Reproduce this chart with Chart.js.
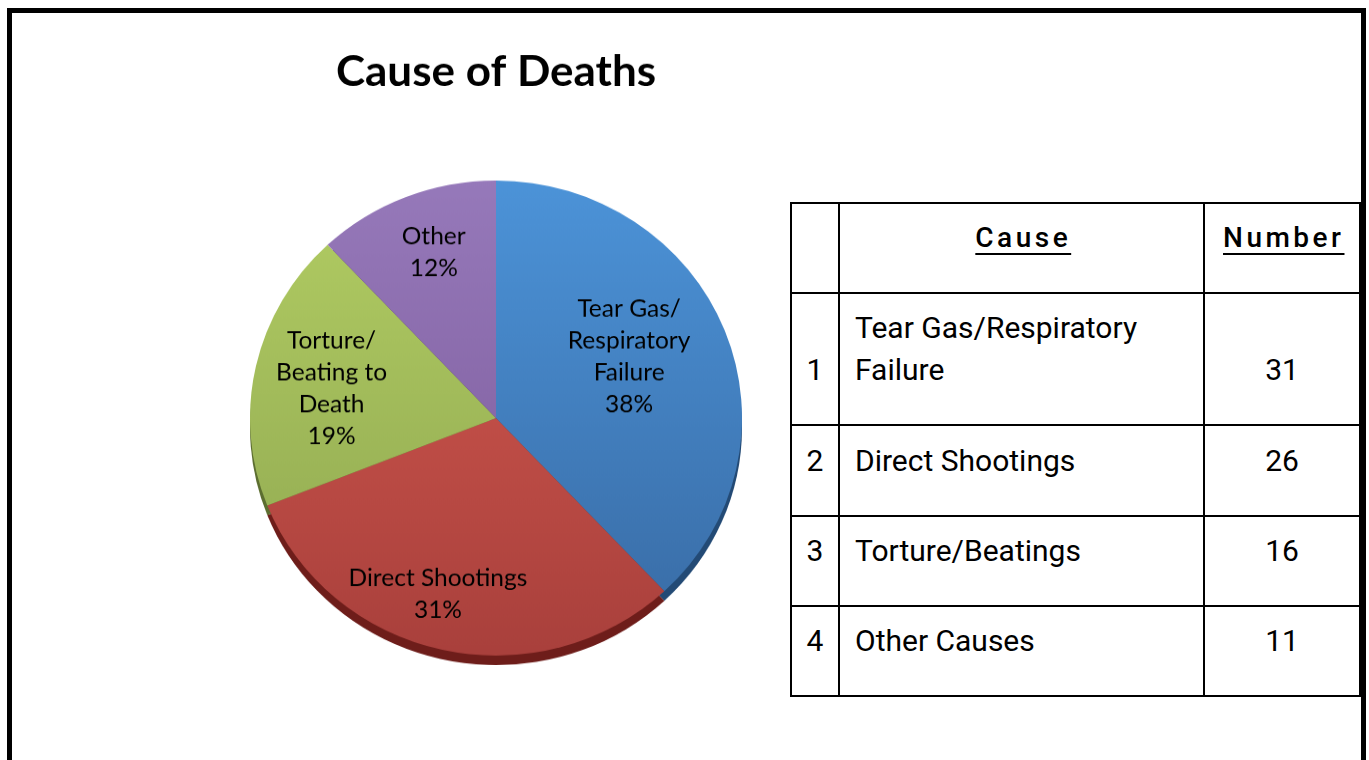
<!DOCTYPE html>
<html>
<head>
<meta charset="utf-8">
<script src="https://cdn.jsdelivr.net/npm/chart.js@4"></script>
<style>
  html, body { margin: 0; padding: 0; background: #fff; overflow: hidden; }
  body { width: 1369px; height: 760px; position: relative; }
  .frame {
    position: absolute; left: 7px; top: 8px; width: 1349px; height: 800px;
    border: 5px solid #000; border-bottom: none;
  }
  /* pie is a little flattened, like the tilted original */
  .chartBox {
    position: absolute; left: 243px; top: 0; width: 506px; height: 689px;
    transform: scaleY(0.9655); transform-origin: top left;
  }
  table.causes {
    position: absolute; left: 790px; top: 202px; width: 569px; height: 494px;
    border-collapse: collapse; table-layout: fixed;
    font-family: "Liberation Sans Narrow", "Arial Narrow", "Roboto", sans-serif;
    font-size: 30px; color: #000;
  }
  table.causes td, table.causes th {
    border: 2px solid #000; padding: 0 0 20px 0; vertical-align: middle; line-height: 42px;
  }
  table.causes th { font-weight: 500; font-size: 28px; letter-spacing: 3.5px; }
  table.causes th span {
    text-decoration: underline; text-underline-offset: 6px; text-decoration-thickness: 2px;
    margin-right: -3.5px;
  }
  .idx { text-align: center; }
  .name { text-align: left; padding-left: 15px !important; }
  .num { text-align: center; }
</style>
</head>
<body>
<div class="frame"></div>
<div class="chartBox"><canvas id="pieCanvas" width="506" height="689"></canvas></div>
<table class="causes" id="causeTable">
  <colgroup><col style="width:48px"><col style="width:365px"><col style="width:156px"></colgroup>
</table>
<script>
const pieLabels = [
  ["Tear Gas/", "Respiratory", "Failure"],
  ["Direct Shootings"],
  ["Torture/", "Beating to", "Death"],
  ["Other"]
];
const piePercent = [38, 31, 19, 12];

const tableCauses = ["Tear Gas/Respiratory Failure", "Direct Shootings", "Torture/Beatings", "Other Causes"];
const tableNumbers = [31, 26, 16, 11];

// top / bottom shades of each slice, plus the dark rim underneath
const topColors = ["#4c93d8", "#d65b51", "#b2cd63", "#9679ba"];
const bottomColors = ["#386aa3", "#a9403c", "#8ea650", "#7a5898"];
const rimColors = ["#234a75", "#6e1d1a", "#5c6e30", "#4f3668"];

// ---- table ----
const table = document.getElementById("causeTable");
const head = document.createElement("tr");
head.style.height = "90px";
head.innerHTML = '<th></th><th><span>Cause</span></th><th><span>Number</span></th>';
table.appendChild(head);
const rowHeights = [132, 91, 90, 90];
tableCauses.forEach((c, i) => {
  const tr = document.createElement("tr");
  tr.style.height = rowHeights[i] + "px";
  const lead = i === 0 ? "<br>" : "";
  const name = i === 0 ? "Tear Gas/Respiratory<br>Failure" : c;
  tr.innerHTML = '<td class="idx">' + lead + (i + 1) + '</td><td class="name">' + name +
    '</td><td class="num">' + lead + tableNumbers[i] + '</td>';
  table.appendChild(tr);
});

// ---- pie ----
const rimPlugin = {
  id: "rim",
  beforeDatasetsDraw(chart) {
    const ctx = chart.ctx;
    const arcs = chart.getDatasetMeta(0).data;
    ctx.save();
    arcs.forEach((arc, i) => {
      const p = arc.getProps(["x", "y", "startAngle", "endAngle", "outerRadius"], true);
      ctx.beginPath();
      ctx.moveTo(p.x, p.y + 10);
      ctx.arc(p.x, p.y + 10, p.outerRadius, p.startAngle, p.endAngle);
      ctx.closePath();
      ctx.fillStyle = rimColors[i];
      ctx.fill();
    });
    ctx.restore();
  }
};

const labelPlugin = {
  id: "sliceLabels",
  afterDatasetsDraw(chart, args, opts) {
    const ctx = chart.ctx;
    const arcs = chart.getDatasetMeta(0).data;
    ctx.save();
    ctx.font = '24.5px Lato, "Noto Sans", sans-serif';
    ctx.fillStyle = "#000";
    ctx.textAlign = "center";
    ctx.textBaseline = "middle";
    arcs.forEach((arc, i) => {
      const p = arc.getProps(["x", "y", "startAngle", "endAngle", "outerRadius"], true);
      const mid = (p.startAngle + p.endAngle) / 2 + opts.shift[i] * Math.PI / 180;
      const r = p.outerRadius * opts.radius[i];
      const cx = p.x + Math.cos(mid) * r;
      const cy = p.y + Math.sin(mid) * r;
      const lines = pieLabels[i].concat([piePercent[i] + "%"]);
      const lh = 33;
      lines.forEach((t, k) => {
        ctx.fillText(t, cx, cy + (k - (lines.length - 1) / 2) * lh);
      });
    });
    ctx.restore();
  }
};

function sliceFill(context) {
  const i = context.dataIndex;
  const area = context.chart.chartArea;
  if (!area) return topColors[i];
  const g = context.chart.ctx.createLinearGradient(0, area.top, 0, area.bottom);
  g.addColorStop(0, topColors[i]);
  g.addColorStop(1, bottomColors[i]);
  return g;
}

new Chart(document.getElementById("pieCanvas"), {
  type: "pie",
  data: {
    labels: pieLabels.map(l => l.join(" ")),
    datasets: [{
      data: piePercent,
      backgroundColor: sliceFill,
      borderWidth: 0
    }]
  },
  options: {
    responsive: false,
    animation: false,
    layout: { padding: { left: 7, right: 7, top: 0, bottom: 10 } },
    plugins: {
      legend: { display: false },
      tooltip: { enabled: false },
      title: {
        display: true,
        text: "Cause of Deaths",
        color: "#000",
        font: { family: 'Lato, "Noto Sans", sans-serif', size: 44, weight: "bold", lineHeight: 1.2 },
        padding: { top: 48, bottom: 86 }
      },
      sliceLabels: { radius: [0.6, 0.78, 0.68, 0.74], shift: [-4, 5, -2, 1.6] }
    }
  },
  plugins: [rimPlugin, labelPlugin]
});
</script>
</body>
</html>
